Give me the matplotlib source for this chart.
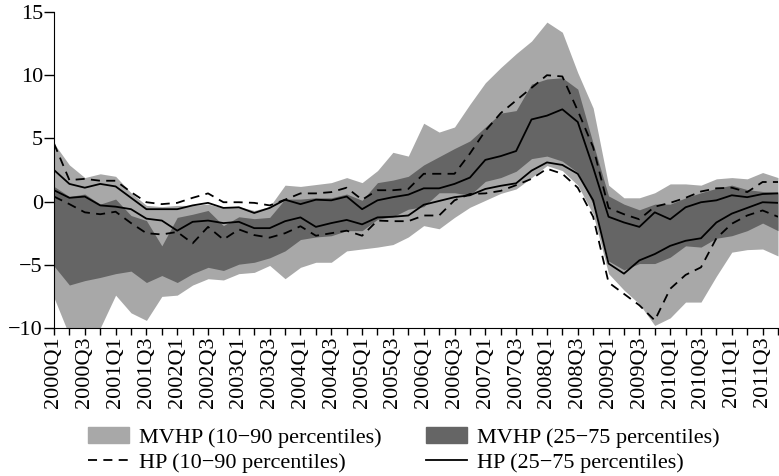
import numpy as np
import matplotlib.pyplot as plt
from matplotlib.patches import Patch
from matplotlib.lines import Line2D

plt.rcParams['font.family'] = 'Liberation Serif'
plt.rcParams['font.size'] = 16
plt.rcParams['axes.unicode_minus'] = True

# quarters 2000Q1 .. 2011Q4
quarters = [f"{y}Q{q}" for y in range(2000, 2012) for q in range(1, 5)]

# MVHP 10-90 percentile band
mvhp_p10 = [-7.6, -10.6, -10.8, -10.0, -7.4, -8.8, -9.4, -7.5, -7.4, -6.6,
            -6.1, -6.2, -5.7, -5.6, -5.05, -6.1, -5.2, -4.8, -4.8, -3.9,
            -3.75, -3.6, -3.4, -2.8, -1.9, -2.15, -1.25, -0.45, 0.1, 0.65,
            1.0, 1.9, 2.85, 2.45, 1.3, -1.0, -5.7, -7.0, -8.1, -9.8,
            -9.2, -7.95, -7.95, -5.9, -4.0, -3.8, -3.75, -4.3]
mvhp_p90 = [4.6, 2.9, 1.9, 2.2, 2.0, 0.7, -0.3, -0.4, -0.3, -0.3,
            -0.2, -0.5, -0.4, -0.7, -0.4, 1.3, 1.2, 1.35, 1.5, 1.9,
            1.5, 2.45, 3.9, 3.6, 6.2, 5.5, 5.9, 7.7, 9.4, 10.6,
            11.7, 12.7, 14.2, 13.4, 10.2, 7.4, 1.3, 0.3, 0.3, 0.7,
            1.4, 1.4, 1.3, 1.8, 1.9, 1.8, 2.3, 1.9]

# MVHP 25-75 percentile band
mvhp_p25 = [-5.1, -6.6, -6.25, -6.0, -5.7, -5.5, -6.4, -5.85, -6.4, -5.7,
            -5.2, -5.45, -4.95, -4.8, -4.45, -3.9, -3.0, -2.8, -2.7, -2.3,
            -2.3, -1.4, -1.2, -0.6, -0.4, 0.7, 0.7, 0.5, 1.6, 1.9,
            2.4, 3.4, 3.6, 3.2, 2.3, -0.2, -4.7, -5.4, -4.9, -4.9,
            -4.4, -3.5, -3.6, -2.9, -2.7, -2.3, -1.7, -2.3]
mvhp_p75 = [1.2, 0.4, 0.6, -0.2, 0.2, -1.1, -1.5, -3.5, -1.25, -1.0,
            -0.7, -1.9, -1.2, -1.35, -1.25, 0.2, 0.2, 0.3, 0.3, 0.6,
            0.1, 1.5, 1.7, 2.0, 2.9, 3.55, 4.2, 4.8, 5.9, 7.0,
            7.2, 9.3, 9.7, 9.8, 8.9, 4.6, 0.45, -0.2, -0.65, -0.2,
            -0.2, 0.3, 0.7, 1.05, 1.3, 0.95, 0.8, 0.75]

# HP percentiles
hp_p10 = [0.4, -0.2, -0.85, -1.0, -0.8, -1.7, -2.5, -2.6, -2.4, -3.3,
          -2.0, -3.0, -2.2, -2.65, -2.85, -2.5, -1.95, -2.7, -2.5, -2.3,
          -2.7, -1.5, -1.55, -1.55, -1.1, -1.1, 0.1, 0.6, 0.65, 0.85,
          1.3, 1.8, 2.6, 2.2, 1.1, -1.2, -6.4, -7.3, -8.2, -9.4,
          -6.9, -5.8, -5.2, -2.9, -1.75, -1.1, -0.7, -1.2]
hp_p90 = [4.6, 1.7, 1.8, 1.65, 1.65, 0.75, -0.05, -0.2, -0.1, 0.3,
          0.65, -0.05, -0.05, -0.1, -0.3, 0.15, 0.65, 0.65, 0.75, 1.1,
          0.15, 0.9, 0.9, 1.0, 2.2, 2.2, 2.2, 3.8, 5.6, 7.0,
          8.0, 9.0, 10.0, 9.9, 7.2, 4.3, -0.5, -1.0, -1.4, -0.4,
          -0.1, 0.3, 0.8, 1.05, 1.1, 0.75, 1.55, 1.55]
hp_p25 = [0.9, 0.3, 0.4, -0.3, -0.4, -0.6, -1.35, -1.5, -2.3, -1.6,
          -1.5, -1.7, -1.6, -2.1, -2.1, -1.55, -1.25, -2.0, -1.7, -1.45,
          -1.8, -1.25, -1.2, -1.1, -0.25, 0.05, 0.35, 0.5, 1.0, 1.25,
          1.45, 2.45, 3.1, 2.9, 2.2, 0.1, -4.9, -5.7, -4.65, -4.15,
          -3.5, -3.1, -2.9, -1.65, -0.95, -0.5, -0.05, -0.1]
hp_p75 = [2.5, 1.4, 1.1, 1.4, 1.2, 0.3, -0.6, -0.6, -0.6, -0.3,
          -0.1, -0.5, -0.45, -0.9, -0.5, 0.15, -0.2, 0.15, 0.1, 0.4,
          -0.6, 0.1, 0.35, 0.55, 1.05, 1.05, 1.4, 1.9, 3.3, 3.6,
          4.0, 6.5, 6.8, 7.3, 6.3, 2.7, -1.2, -1.65, -2.0, -0.85,
          -1.4, -0.45, -0.05, 0.1, 0.5, 0.35, 0.6, 0.65]

light = '#a8a8a8'
dark = '#656565'
dash = (0, (5, 3.5))

x = np.arange(len(quarters))

fig = plt.figure(figsize=(7.79, 4.76), dpi=100)
ax = fig.add_axes([54 / 779, 1 - 328 / 476, 724 / 779, 316 / 476])

ax.fill_between(x, mvhp_p10, mvhp_p90, color=light, lw=0)
ax.fill_between(x, mvhp_p25, mvhp_p75, color=dark, lw=0)
ax.plot(x, hp_p10, color='black', lw=1.3, linestyle=dash)
ax.plot(x, hp_p90, color='black', lw=1.3, linestyle=dash)
ax.plot(x, hp_p25, color='black', lw=1.3)
ax.plot(x, hp_p75, color='black', lw=1.3)

ax.set_xlim(0, len(quarters) - 1)
ax.set_ylim(-10, 15)
ax.set_yticks([-10, -5, 0, 5, 10, 15])
ax.set_xticks(x)
ax.set_xticklabels([q if i % 2 == 0 else '' for i, q in enumerate(quarters)],
                   rotation=90)
ax.tick_params(axis='x', length=5, width=1, pad=1)
ax.tick_params(axis='y', length=7, width=1, pad=1)
for s in ['top', 'right']:
    ax.spines[s].set_visible(False)

handles = [Patch(color=light), Line2D([], [], color='black', lw=1.3, linestyle=dash),
           Patch(color=dark), Line2D([], [], color='black', lw=1.3)]
labels = ['MVHP (10\u221290 percentiles)', 'HP (10\u221290 percentiles)',
          'MVHP (25\u221275 percentiles)', 'HP (25\u221275 percentiles)']
fig.legend(handles, labels, ncol=2, loc='upper left', frameon=False,
           bbox_to_anchor=(88 / 779, 1 - 427 / 476), borderpad=0, borderaxespad=0,
           handlelength=1.85, handletextpad=0.45, columnspacing=2.0, labelspacing=0.2)

fig.savefig('out.png', dpi=100)
